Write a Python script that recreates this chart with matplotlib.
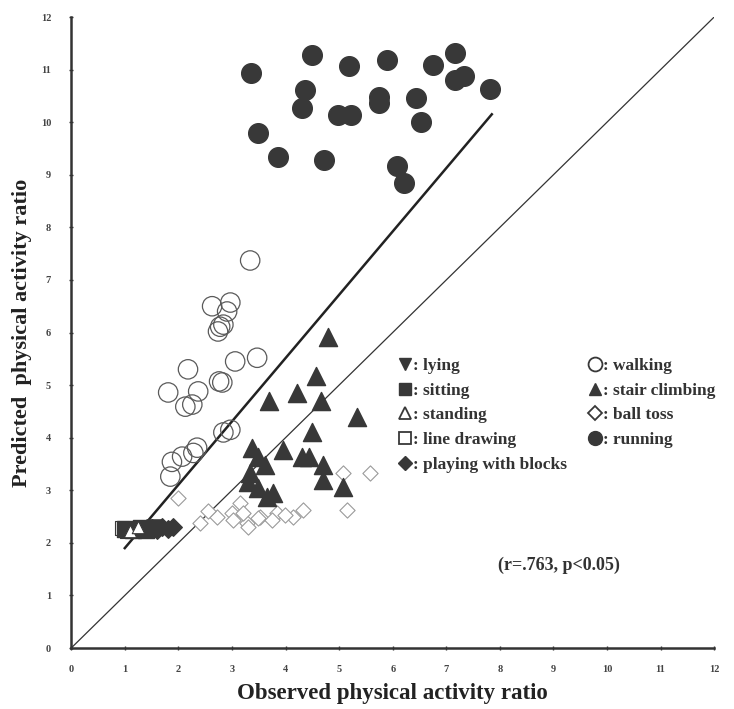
import numpy as np
import matplotlib.pyplot as plt
from matplotlib.lines import Line2D

plt.rcParams['font.family'] = ['Liberation Serif', 'DejaVu Serif']
plt.rcParams['font.weight'] = 'bold'

# observed (x) vs predicted (y) physical activity ratio
lying_x = [1.35, 1.45, 1.55]
lying_y = [2.28, 2.25, 2.30]
sitting_x = [1.0, 1.15, 1.3, 1.4]
sitting_y = [2.27, 2.25, 2.28, 2.24]
standing_x = [1.1, 1.25]
standing_y = [2.22, 2.30]
drawing_x = [0.95, 1.05]
drawing_y = [2.28, 2.24]
blocks_x = [1.5, 1.6, 1.7, 1.8, 1.9]
blocks_y = [2.28, 2.25, 2.30, 2.27, 2.30]

walking_x = [3.34, 2.63, 2.97, 2.91, 2.78, 2.74, 2.84, 2.18, 3.06, 3.47, 2.82, 2.76,
             1.81, 2.37, 2.13, 2.26, 2.97, 2.84, 1.88, 2.07, 2.28, 2.35, 1.85]
walking_y = [7.37, 6.50, 6.57, 6.40, 6.11, 6.02, 6.15, 5.30, 5.45, 5.52, 5.05, 5.07,
             4.86, 4.88, 4.59, 4.63, 4.15, 4.10, 3.54, 3.64, 3.71, 3.81, 3.26]

stair_x = [4.79, 4.57, 4.22, 4.66, 3.69, 5.34, 4.50, 3.38, 3.96, 4.31, 4.44, 3.49,
           3.62, 3.34, 3.30, 4.70, 4.70, 5.07, 3.66, 3.77, 3.49]
stair_y = [5.91, 5.17, 4.85, 4.70, 4.70, 4.39, 4.11, 3.80, 3.76, 3.63, 3.63, 3.63,
           3.48, 3.33, 3.16, 3.48, 3.19, 3.06, 2.87, 2.95, 3.04]

toss_x = [2.0, 2.41, 2.72, 3.0, 3.15, 3.28, 3.53, 3.84, 4.14, 3.21, 3.49, 3.75,
          3.99, 4.33, 5.15, 5.07, 5.58, 3.02, 3.30, 2.55]
toss_y = [2.85, 2.38, 2.49, 2.56, 2.76, 2.38, 2.49, 2.56, 2.49, 2.56, 2.47, 2.43,
          2.53, 2.62, 2.62, 3.33, 3.33, 2.43, 2.30, 2.60]

running_x = [3.36, 4.50, 5.19, 5.90, 6.75, 7.16, 7.16, 7.33, 7.82, 4.37, 4.31, 4.98,
             5.22, 5.75, 5.75, 6.44, 6.53, 3.49, 3.86, 4.72, 6.08, 6.21]
running_y = [10.93, 11.28, 11.07, 11.18, 11.09, 11.31, 10.80, 10.88, 10.63, 10.61, 10.27, 10.13,
             10.13, 10.48, 10.36, 10.46, 10.00, 9.79, 9.33, 9.28, 9.16, 8.84]

fit_x = [1.0, 7.85]
fit_y = [1.9, 10.15]
ident = [0, 12]

dark = '#383838'
edge = '#5a5a5a'

fig = plt.figure(figsize=(7.34, 7.09), dpi=100)
ax = fig.add_axes([0.097, 0.086, 0.876, 0.89])

ax.plot(ident, ident, color='#333333', lw=0.9, zorder=1)
ax.plot(fit_x, fit_y, color='#222222', lw=1.8, zorder=1)

ax.scatter(toss_x, toss_y, marker='D', s=60, facecolor='white', edgecolor='#9a9a9a', lw=0.8, zorder=2)
ax.scatter(walking_x, walking_y, marker='o', s=195, facecolor='none', edgecolor=edge, lw=0.9, zorder=3)
ax.scatter(stair_x, stair_y, marker='^', s=170, color=dark, zorder=3)
ax.scatter(running_x, running_y, marker='o', s=200, color=dark, zorder=3)
ax.scatter(blocks_x, blocks_y, marker='D', s=80, color=dark, zorder=3)
ax.scatter(sitting_x, sitting_y, marker='s', s=130, color=dark, zorder=3)
ax.scatter(lying_x, lying_y, marker='v', s=120, color=dark, zorder=3)
ax.scatter(drawing_x, drawing_y, marker='s', s=110, facecolor='none', edgecolor=dark, lw=0.8, zorder=4)
ax.scatter(standing_x, standing_y, marker='^', s=80, facecolor='white', edgecolor=dark, lw=0.8, zorder=4)

ax.set_xlim(0, 12)
ax.set_ylim(0, 12)
ax.set_xticks(range(13))
ax.set_yticks(range(13))
for side in ['top', 'right']:
    ax.spines[side].set_visible(False)
for side in ['left', 'bottom']:
    ax.spines[side].set_linewidth(1.8)
    ax.spines[side].set_color('#333333')
ax.tick_params(direction='inout', length=3, width=1, colors='#333333',
               labelsize=7.5, labelcolor='#444444')
ax.tick_params(axis='x', pad=11)
ax.tick_params(axis='y', pad=13)

ax.set_xlabel('Observed physical activity ratio', fontsize=16.5, fontweight='bold',
              color='#222222', labelpad=6)
ax.set_ylabel('Predicted  physical activity ratio', fontsize=16, fontweight='bold',
              color='#222222', labelpad=6)

ax.text(9.1, 1.58, '(r=.763, p<0.05)', fontsize=13, fontweight='bold',
        ha='center', va='center', color='#333333')

handles = [
    Line2D([], [], ls='', marker='v', ms=9, color=dark),
    Line2D([], [], ls='', marker='s', ms=9, color=dark),
    Line2D([], [], ls='', marker='^', ms=9, mfc='white', mec=dark, mew=1.3),
    Line2D([], [], ls='', marker='s', ms=9, mfc='white', mec=dark, mew=1.3),
    Line2D([], [], ls='', marker='D', ms=7.5, color=dark),
    Line2D([], [], ls='', marker='o', ms=10, mfc='white', mec=dark, mew=1.3),
    Line2D([], [], ls='', marker='^', ms=9, color=dark),
    Line2D([], [], ls='', marker='D', ms=7.5, mfc='white', mec=dark, mew=1.3),
    Line2D([], [], ls='', marker='o', ms=10, color=dark),
]
labels = [': lying', ': sitting', ': standing', ': line drawing', ': playing with blocks',
          ': walking', ': stair climbing', ': ball toss', ': running']
leg = ax.legend(handles, labels, ncol=2, loc='upper left', bbox_to_anchor=(0.485, 0.485),
                frameon=False, handlelength=0.7, handletextpad=0.1, columnspacing=1.3,
                labelspacing=0.5, prop={'size': 12.5, 'weight': 'bold'})
for t in leg.get_texts():
    t.set_color('#333333')

fig.savefig('out.png', dpi=100)
